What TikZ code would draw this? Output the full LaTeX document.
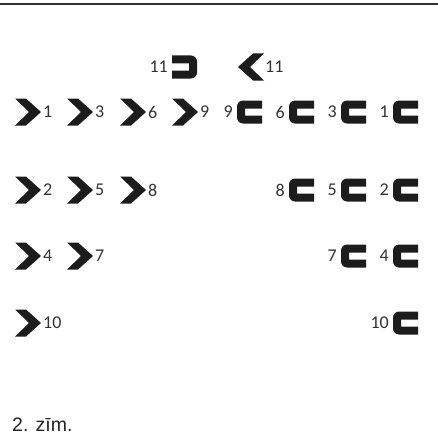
\documentclass[tikz,border=0pt]{standalone}
\usepackage{fontspec}
\setmainfont{Liberation Sans}
\newfontfamily\numfont{Carlito}
\definecolor{shapecol}{HTML}{1C1C1C}
\definecolor{numcol}{HTML}{333333}
\definecolor{capcol}{HTML}{222222}
\tikzset{
  chevR/.pic={\fill[shapecol] (0,-13.5) -- (11,-13.5) -- (26,0) -- (11,13.5) -- (0,13.5) -- (14,0) -- cycle;},
  chevL/.pic={\fill[shapecol] (26,-13.5) -- (15,-13.5) -- (0,0) -- (15,13.5) -- (26,13.5) -- (12,0) -- cycle;},
  brackR/.pic={\fill[shapecol] (25,-11.5) -- (6,-11.5) .. controls (2.7,-11.5) and (0,-8.8) .. (0,-5.5) -- (0,5.5) .. controls (0,8.8) and (2.7,11.5) .. (6,11.5) -- (25,11.5) -- (25,3.5) -- (8,3.5) -- (8,-3.5) -- (25,-3.5) -- cycle;},
  brackL/.pic={\fill[shapecol] (0,-11.5) -- (19,-11.5) .. controls (22.3,-11.5) and (25,-8.8) .. (25,-5.5) -- (25,5.5) .. controls (25,8.8) and (22.3,11.5) .. (19,11.5) -- (0,11.5) -- (0,3.5) -- (17,3.5) -- (17,-3.5) -- (0,-3.5) -- cycle;},
  numlbl/.style={inner sep=0pt, text=numcol, font=\numfont\fontsize{18}{21}\selectfont},
}
\begin{document}
\begin{tikzpicture}[x=1pt,y=-1pt]
\useasboundingbox (0,0) rectangle (438,444);
% top rule
\coordinate (ruleL) at (0,4);
\coordinate (ruleR) at (438,4);
\draw[line width=1.6pt, numcol] (ruleL) -- (ruleR);

% top row (11)
\pic (t1) at (172,67) {brackL};
\node[numlbl, anchor=east] (t1lbl) at (168,67) {11};
\pic (t2) at (238,67) {chevL};
\node[numlbl, anchor=west] (t2lbl) at (265,67) {11};

% left chevrons
\foreach \x/\y/\n in {15/112/1, 67/112/3, 120/112/6, 172/112/9,
                      15/190/2, 67/190/5, 120/190/8,
                      15/256/4, 67/256/7,
                      15/323/10} {
  \pic (cl\n) at (\x,\y) {chevR};
  \node[numlbl, anchor=west] (cllbl\n) at (\x+28,\y) {\n};
}

% right brackets
\foreach \x/\y/\n in {237/112/9, 289/112/6, 341/112/3, 393/112/1,
                      289/190/8, 341/190/5, 393/190/2,
                      341/256/7, 393/256/4,
                      393/323/10} {
  \pic (br\n) at (\x,\y) {brackR};
  \node[numlbl, anchor=east] (brlbl\n) at (\x-4,\y) {\n};
}

% caption
\node[anchor=base west, inner sep=0pt, text=capcol, font=\fontsize{19.5}{23}\selectfont] (cap) at (12,431) {2. zīm.};
\end{tikzpicture}
\end{document}
